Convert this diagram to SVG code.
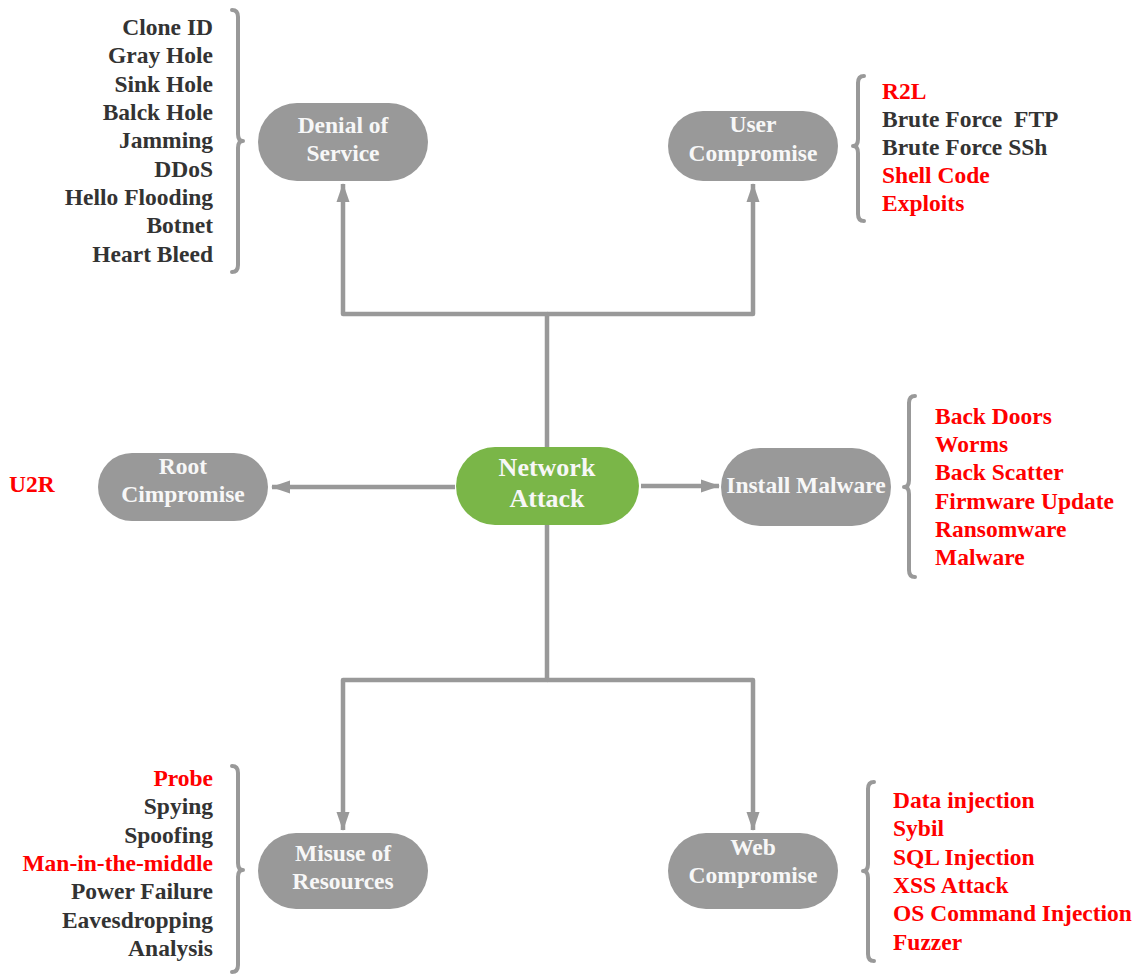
<svg xmlns="http://www.w3.org/2000/svg" width="1141" height="976" viewBox="0 0 1141 976">
<style>
.node{fill:#999999}
.root{fill:#7ab648}
.nt{font-family:"Liberation Serif",serif;font-weight:bold;font-size:23.5px;fill:#f7f7f7;text-anchor:middle}
.big{font-size:26px}
.li{font-family:"Liberation Serif",serif;font-weight:bold;font-size:23.5px;fill:#333333}
.r{fill:#ff0000}
.end{text-anchor:end}
.edge{fill:none;stroke:#999999;stroke-width:4.5;stroke-linejoin:round}
.brace{fill:none;stroke:#999999;stroke-width:4;stroke-linecap:round;stroke-linejoin:round}
</style>
<defs>
<marker id="ah" markerUnits="userSpaceOnUse" markerWidth="19" markerHeight="14" refX="18" refY="7" orient="auto">
<path d="M0,0.5 L19,7 L0,13.5 Z" fill="#999999"/>
</marker>
</defs>
<rect width="1141" height="976" fill="#ffffff"/>
<g id="connectors">
<path class="edge" d="M547,447 V314 H343 V184" marker-end="url(#ah)"/>
<path class="edge" d="M547,314 H753 V184" marker-end="url(#ah)"/>
<path class="edge" d="M547,525 V680 H343 V830" marker-end="url(#ah)"/>
<path class="edge" d="M547,680 H753 V830" marker-end="url(#ah)"/>
<path class="edge" d="M455,487 H272" marker-end="url(#ah)"/>
<path class="edge" d="M641,486 H719" marker-end="url(#ah)"/>
</g>
<g id="network-attack">
<rect class="root" x="456" y="447" width="183" height="78" rx="39"/>
<text class="nt big" x="547" y="476">Network</text>
<text class="nt big" x="547" y="507">Attack</text>
</g>
<g id="denial-of-service">
<rect class="node" x="258" y="103" width="170" height="78" rx="39"/>
<text class="nt" x="343" y="133">Denial of</text>
<text class="nt" x="343" y="161">Service</text>
</g>
<g id="user-compromise">
<rect class="node" x="668" y="111" width="170" height="70" rx="35"/>
<text class="nt" x="753" y="132">User</text>
<text class="nt" x="753" y="161">Compromise</text>
</g>
<g id="root-compromise">
<rect class="node" x="98" y="453" width="170" height="68" rx="34"/>
<text class="nt" x="183" y="474">Root</text>
<text class="nt" x="183" y="502">Cimpromise</text>
</g>
<g id="install-malware">
<rect class="node" x="721" y="448" width="170" height="78" rx="39"/>
<text class="nt" x="806" y="493">Install Malware</text>
</g>
<g id="misuse-of-resources">
<rect class="node" x="258" y="833" width="170" height="76" rx="38"/>
<text class="nt" x="343" y="861">Misuse of</text>
<text class="nt" x="343" y="889">Resources</text>
</g>
<g id="web-compromise">
<rect class="node" x="668" y="833" width="170" height="76" rx="38"/>
<text class="nt" x="753" y="855">Web</text>
<text class="nt" x="753" y="883">Compromise</text>
</g>
<g id="dos-list">
<path class="brace" d="M232,10 Q238,10 238,17 V134 Q238,141 243,141 Q238,141 238,148 V265 Q238,272 232,272"/>
<text class="li end" x="213" y="35">Clone ID</text>
<text class="li end" x="213" y="63">Gray Hole</text>
<text class="li end" x="213" y="92">Sink Hole</text>
<text class="li end" x="213" y="120">Balck Hole</text>
<text class="li end" x="213" y="148">Jamming</text>
<text class="li end" x="213" y="177">DDoS</text>
<text class="li end" x="213" y="205">Hello Flooding</text>
<text class="li end" x="213" y="233">Botnet</text>
<text class="li end" x="213" y="262">Heart Bleed</text>
</g>
<g id="user-list">
<path class="brace" d="M864,76 Q858,76 858,83 V139 Q858,146 853,146 Q858,146 858,153 V214 Q858,221 864,221"/>
<text class="li r" x="882" y="99">R2L</text>
<text class="li" x="882" y="127" xml:space="preserve">Brute Force  FTP</text>
<text class="li" x="882" y="155">Brute Force SSh</text>
<text class="li r" x="882" y="183">Shell Code</text>
<text class="li r" x="882" y="211">Exploits</text>
</g>
<g id="root-list">
<text class="li r" x="9" y="492">U2R</text>
</g>
<g id="malware-list">
<path class="brace" d="M915,396 Q909,396 909,403 V480 Q909,487 904,487 Q909,487 909,494 V570 Q909,577 915,577"/>
<text class="li r" x="935" y="424">Back Doors</text>
<text class="li r" x="935" y="452">Worms</text>
<text class="li r" x="935" y="480">Back Scatter</text>
<text class="li r" x="935" y="509">Firmware Update</text>
<text class="li r" x="935" y="537">Ransomware</text>
<text class="li r" x="935" y="565">Malware</text>
</g>
<g id="misuse-list">
<path class="brace" d="M232,766 Q238,766 238,773 V863 Q238,870 243,870 Q238,870 238,877 V965 Q238,972 232,972"/>
<text class="li r end" x="213" y="786">Probe</text>
<text class="li end" x="213" y="814">Spying</text>
<text class="li end" x="213" y="843">Spoofing</text>
<text class="li r end" x="213" y="871">Man-in-the-middle</text>
<text class="li end" x="213" y="899">Power Failure</text>
<text class="li end" x="213" y="928">Eavesdropping</text>
<text class="li end" x="213" y="956">Analysis</text>
</g>
<g id="web-list">
<path class="brace" d="M874,782 Q868,782 868,789 V864 Q868,871 863,871 Q868,871 868,878 V954 Q868,961 874,961"/>
<text class="li r" x="893" y="808">Data injection</text>
<text class="li r" x="893" y="836">Sybil</text>
<text class="li r" x="893" y="865">SQL Injection</text>
<text class="li r" x="893" y="893">XSS Attack</text>
<text class="li r" x="893" y="921">OS Command Injection</text>
<text class="li r" x="893" y="950">Fuzzer</text>
</g>
</svg>
